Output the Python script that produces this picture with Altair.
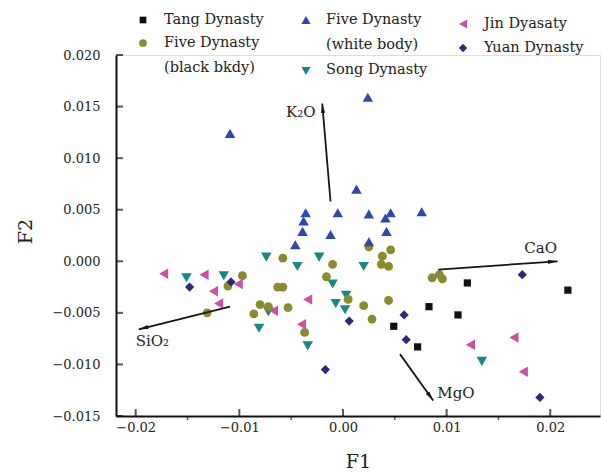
import math
import altair as alt
import pandas as pd

# ---------------- data ----------------
tang_f1 = [0.0120, 0.0217, 0.0083, 0.0111, 0.0049, 0.0072]
tang_f2 = [-0.0021, -0.0028, -0.0044, -0.0052, -0.0063, -0.0083]

five_black_f1 = [-0.0097, -0.0111, -0.0131, -0.0058, -0.0010, -0.0016, -0.0063, -0.0058,
                 -0.0080, -0.0086, -0.0072, -0.0053, -0.0037, 0.0005, 0.0020, 0.0028,
                 0.0044, 0.0025, 0.0046, 0.0038, 0.0037, 0.0044, 0.0086, 0.0093, 0.0096]
five_black_f2 = [-0.0014, -0.0024, -0.0050, 0.0003, -0.0003, -0.0015, -0.0025, -0.0025,
                 -0.0042, -0.0051, -0.0044, -0.0045, -0.0069, -0.0037, -0.0043, -0.0056,
                 -0.0038, 0.0014, 0.0011, 0.0005, -0.0003, -0.0005, -0.0016, -0.0013, -0.0017]

five_white_f1 = [-0.0109, 0.0024, 0.0013, -0.0036, -0.0038, -0.0039, -0.0046, -0.0005,
                 -0.0012, 0.0025, 0.0046, 0.0041, 0.0042, 0.0025, 0.0076]
five_white_f2 = [0.0124, 0.0159, 0.0070, 0.0047, 0.0039, 0.0029, 0.0016, 0.0047,
                 0.0026, 0.0046, 0.0047, 0.0042, 0.0029, 0.0019, 0.0048]

song_f1 = [-0.0151, -0.0115, -0.0074, -0.0044, -0.0023, 0.0020, -0.0010, 0.0003,
           -0.0007, 0.0002, -0.0081, -0.0072, -0.0034, 0.0134]
song_f2 = [-0.0016, -0.0014, 0.0004, -0.0005, 0.0004, -0.0005, -0.0022, -0.0033,
           -0.0041, -0.0047, -0.0065, -0.0049, -0.0082, -0.0097]

jin_f1 = [-0.0173, -0.0134, -0.0125, -0.0120, -0.0101, -0.0067, -0.0034, -0.0040,
          0.0123, 0.0165, 0.0174]
jin_f2 = [-0.0012, -0.0013, -0.0029, -0.0041, -0.0022, -0.0048, -0.0037, -0.0061,
          -0.0081, -0.0074, -0.0107]

yuan_f1 = [-0.0148, -0.0108, 0.0006, -0.0017, 0.0059, 0.0061, 0.0173, 0.0190]
yuan_f2 = [-0.0025, -0.0020, -0.0058, -0.0105, -0.0052, -0.0076, -0.0013, -0.0132]

vec_names = ["K₂O", "SiO₂", "CaO", "MgO"]
vec_x0 = [-0.0012, -0.0109, 0.0092, 0.0055]
vec_y0 = [0.0058, -0.0044, -0.0008, -0.0090]
vec_x1 = [-0.0020, -0.0197, 0.0207, 0.0087]
vec_y1 = [0.0153, -0.0066, 0.0000, -0.0135]
vec_label_x = [-0.0055, -0.0200, 0.0175, 0.0091]
vec_label_y = [0.0145, -0.0077, 0.0013, -0.0128]

x_major = [-0.02, -0.01, 0.00, 0.01, 0.02]
x_minor = [-0.015, -0.005, 0.005, 0.015]
y_major = [-0.015, -0.010, -0.005, 0.000, 0.005, 0.010, 0.015, 0.020]

# ---------------- styling / layout ----------------
groups = ["Song Dynasty", "Tang Dynasty", "Five Dynasty (black bkdy)",
          "Five Dynasty (white body)", "Yuan Dynasty", "Jin Dyasaty"]
shapes = ["triangle-down", "square", "circle", "triangle-up", "diamond", "triangle-left"]
colors = ["#178886", "#111111", "#8a8a2e", "#2f47b0", "#2b2a7a", "#cc4fa8"]
sizes = [110, 52, 78, 110, 85, 110]

W, H = 484, 361
XDOM = [-0.0219, 0.0248]
YDOM = [-0.015, 0.020]
FONT = "DejaVu Serif"

series = {
    "Song Dynasty": (song_f1, song_f2),
    "Tang Dynasty": (tang_f1, tang_f2),
    "Five Dynasty (black bkdy)": (five_black_f1, five_black_f2),
    "Five Dynasty (white body)": (five_white_f1, five_white_f2),
    "Yuan Dynasty": (yuan_f1, yuan_f2),
    "Jin Dyasaty": (jin_f1, jin_f2),
}
rows = []
for g in groups:
    xs, ys = series[g]
    for a, b in zip(xs, ys):
        rows.append({"group": g, "F1": a, "F2": b})
pts = pd.DataFrame(rows)

xscale = alt.Scale(domain=XDOM, nice=False, zero=False)
yscale = alt.Scale(domain=YDOM, nice=False, zero=False)

xaxis = alt.Axis(values=x_major, format=".2f", grid=False, domainColor="#111", domainWidth=2,
                 ticks=False, tickSize=0, labelPadding=5,
                 labelFont=FONT, labelFontSize=13, labelColor="#222",
                 labelFlush=False, labelOverlap=False,
                 titleFont=FONT, titleFontSize=19, titleFontWeight="normal", titleColor="#222",
                 titleY=45, titleBaseline="middle")
yaxis = alt.Axis(values=y_major, format=".3f", grid=False, domainColor="#111", domainWidth=2,
                 ticks=False, tickSize=0, labelPadding=16,
                 labelFont=FONT, labelFontSize=13, labelColor="#222",
                 labelFlush=False, labelOverlap=False,
                 titleFont=FONT, titleFontSize=19, titleFontWeight="normal", titleColor="#222",
                 titleX=-91, titleY=176, titleAlign="center", titleBaseline="middle")

points = alt.Chart(pts).mark_point(filled=True, opacity=1).encode(
    x=alt.X("F1:Q", scale=xscale, title="F1", axis=xaxis),
    y=alt.Y("F2:Q", scale=yscale, title="F2", axis=yaxis),
    shape=alt.Shape("group:N", scale=alt.Scale(domain=groups, range=shapes), legend=None),
    color=alt.Color("group:N", scale=alt.Scale(domain=groups, range=colors), legend=None),
    size=alt.Size("group:N", scale=alt.Scale(type="ordinal", domain=groups, range=sizes),
                  legend=None),
)

# inward major ticks, small outward minor ticks
xt = alt.Chart(pd.DataFrame({"v": x_major})).mark_tick(color="#111", thickness=2, size=7).encode(
    x=alt.X("v:Q", scale=xscale, title="F1"), y=alt.value(H - 3.5))
xm = alt.Chart(pd.DataFrame({"v": x_minor})).mark_tick(color="#111", thickness=1.5, size=3).encode(
    x=alt.X("v:Q", scale=xscale, title="F1"), y=alt.value(H + 2.5))
yt = alt.Chart(pd.DataFrame({"v": y_major})).mark_tick(color="#111", thickness=2, size=7).encode(
    y=alt.Y("v:Q", scale=yscale, title="F2"), x=alt.value(3.5))

# loading vectors
sx = W / (XDOM[1] - XDOM[0])
sy = H / (YDOM[1] - YDOM[0])
vec = pd.DataFrame({"name": vec_names, "x0": vec_x0, "y0": vec_y0, "x1": vec_x1, "y1": vec_y1,
                    "lx": vec_label_x, "ly": vec_label_y})
vec["ang"] = [math.degrees(math.atan2((b - a) * sx, (d - c) * sy)) % 360
              for a, b, c, d in zip(vec_x0, vec_x1, vec_y0, vec_y1)]

lines = alt.Chart(vec).mark_rule(color="#151515", strokeWidth=1.8).encode(
    x=alt.X("x0:Q", scale=xscale, title="F1"), y=alt.Y("y0:Q", scale=yscale, title="F2"),
    x2="x1:Q", y2="y1:Q")
heads = alt.Chart(vec).mark_point(shape="M0,0L0.42,1.9L-0.42,1.9Z", filled=True, size=100,
                                  color="#151515", opacity=1).encode(
    x=alt.X("x1:Q", scale=xscale, title="F1"), y=alt.Y("y1:Q", scale=yscale, title="F2"),
    angle=alt.Angle("ang:Q", scale=None))
vlabels = alt.Chart(vec).mark_text(font=FONT, fontSize=15, color="#222", align="left",
                                   baseline="middle").encode(
    x=alt.X("lx:Q", scale=xscale, title="F1"), y=alt.Y("ly:Q", scale=yscale, title="F2"),
    text="name:N")

# custom legend (layout in pixels relative to the plot area)
leg_sym = {
    "Tang Dynasty": (27, -35, 45),
    "Five Dynasty (black bkdy)": (27, -12, 60),
    "Five Dynasty (white body)": (190, -35, 85),
    "Song Dynasty": (190, 16, 85),
    "Jin Dyasaty": (347, -31, 85),
    "Yuan Dynasty": (347, -7, 70),
}
leg_txt = [
    ("Tang Dynasty", 48, -35), ("Five Dynasty", 48, -12), ("(black bkdy)", 48, 13),
    ("Five Dynasty", 210, -35), ("(white body)", 210, -10), ("Song Dynasty", 210, 15),
    ("Jin Dyasaty", 368, -31), ("Yuan Dynasty", 368, -7),
]
one = pd.DataFrame({"k": [0]})
legend_layers = []
for g, (lx, ly, s) in leg_sym.items():
    i = groups.index(g)
    legend_layers.append(alt.Chart(one).mark_point(shape=shapes[i], filled=True, opacity=1,
                                                   size=s, color=colors[i]).encode(
        x=alt.value(lx), y=alt.value(ly)))
for t, lx, ly in leg_txt:
    legend_layers.append(alt.Chart(one).mark_text(font=FONT, fontSize=14.5, color="#222",
                                                  align="left", baseline="middle").encode(
        x=alt.value(lx), y=alt.value(ly), text=alt.value(t)))

chart = alt.layer(points, xt, xm, yt, lines, heads, vlabels, *legend_layers).properties(
    width=W, height=H,
    autosize=alt.AutoSizeParams(type="none"),
    padding={"left": 116, "top": 55, "right": 1, "bottom": 56},
).configure_view(stroke=None).configure(background="white")

chart.save("out.html", embed_options={"renderer": "svg", "actions": False})
